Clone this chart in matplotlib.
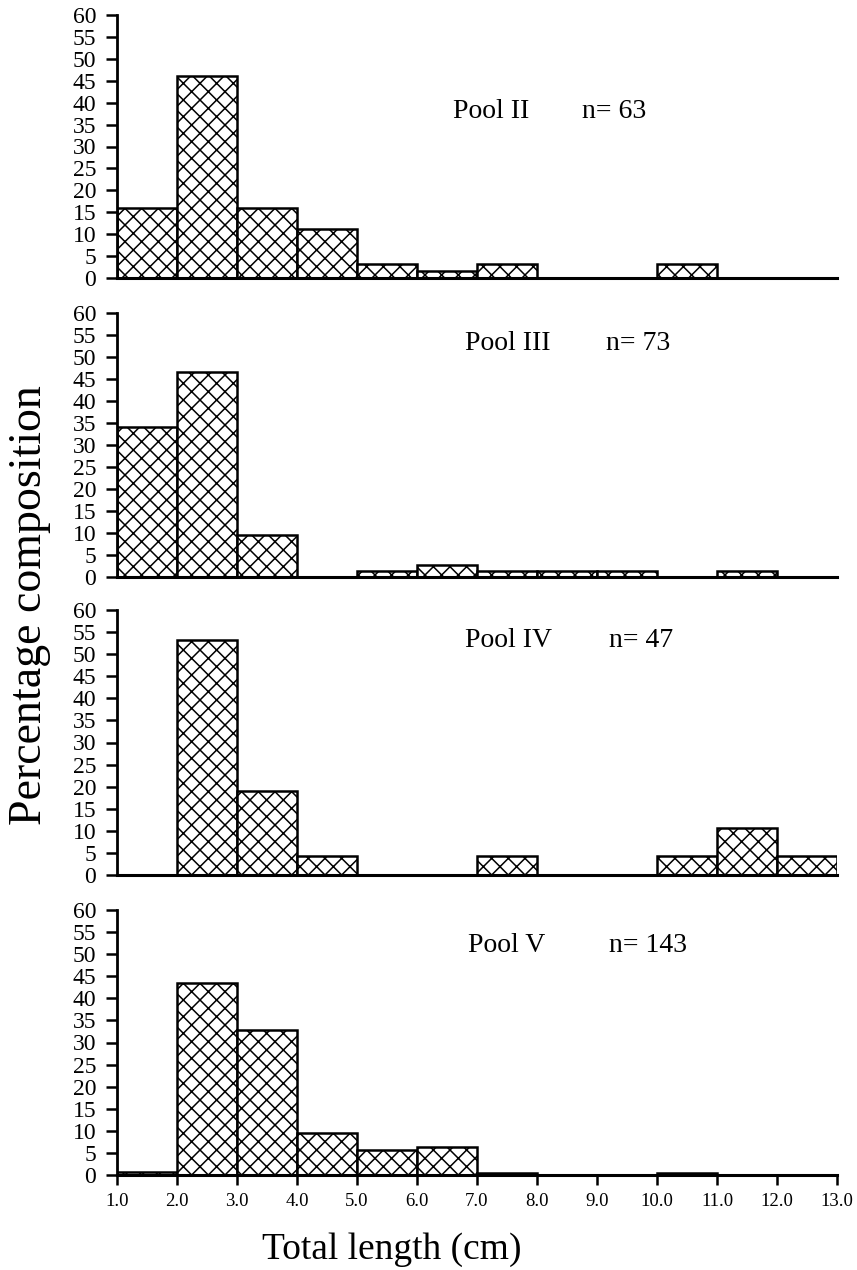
import matplotlib
matplotlib.use("Agg")
import matplotlib.pyplot as plt
import numpy as np

plt.rcParams['font.family'] = ['Liberation Serif', 'DejaVu Serif']
plt.rcParams['hatch.linewidth'] = 1.1

# length classes (cm), lower edges of 1-cm bins
bin_edges = [1, 2, 3, 4, 5, 6, 7, 8, 9, 10, 11, 12]

pools = ["Pool II", "Pool III", "Pool IV", "Pool V"]
n_fish = [63, 73, 47, 143]

# percentage composition per bin (1-2, 2-3, ..., 12-13)
pool2 = [15.9, 46.0, 15.9, 11.1, 3.2, 1.6, 3.2, 0, 0, 3.2, 0, 0]
pool3 = [34.2, 46.6, 9.6, 0, 1.4, 2.7, 1.4, 1.4, 1.4, 0, 1.4, 0]
pool4 = [0, 53.2, 19.1, 4.3, 0, 0, 4.3, 0, 0, 4.3, 10.6, 4.3]
pool5 = [0.7, 43.4, 32.9, 9.4, 5.6, 6.3, 0.4, 0, 0, 0.4, 0, 0]
series = [pool2, pool3, pool4, pool5]

xticks = np.arange(1, 14)
xlabels = ["%.1f" % v for v in xticks]

# label positions (data coords)
name_x = [6.6, 6.8, 6.8, 6.85]
n_x = [8.75, 9.15, 9.2, 9.2]
text_y = [38, 53, 53, 52]

fig = plt.figure(figsize=(8.57, 12.7), dpi=100)
left, width = 117/857, 720/857
tops = [15, 313, 610, 910]
bots = [278, 577, 875, 1175]

for i in range(4):
    ax = fig.add_axes([left, 1 - bots[i]/1270, width, (bots[i]-tops[i])/1270])
    vals = series[i]
    ax.bar(bin_edges, vals, width=1.0, align='edge', color='white',
           edgecolor='black', linewidth=1.8, hatch='xx')
    ax.set_xlim(1, 13)
    ax.set_ylim(0, 60)
    ax.set_yticks(range(0, 61, 5))
    for s in ['top', 'right']:
        ax.spines[s].set_visible(False)
    ax.spines['left'].set_linewidth(2)
    ax.spines['bottom'].set_linewidth(2.2)
    ax.tick_params(axis='y', direction='out', length=8, width=1.8,
                   labelsize=17, pad=7)
    if i < 3:
        ax.set_xticks([])
    else:
        ax.set_xticks(xticks)
        ax.set_xticklabels(xlabels)
        ax.tick_params(axis='x', direction='out', length=7, width=1.8,
                       labelsize=13.5, pad=6)
    ax.text(name_x[i], text_y[i], pools[i], fontsize=20, va='center')
    ax.text(n_x[i], text_y[i], "n= %d" % n_fish[i], fontsize=20, va='center')

fig.text(30/857, 1 - 605/1270, "Percentage composition", rotation=90,
         fontsize=33, ha='center', va='center')
fig.text(392/857, 1 - 1250/1270, "Total length (cm)", fontsize=27,
         ha='center', va='center')

fig.savefig("out.png", dpi=100)
